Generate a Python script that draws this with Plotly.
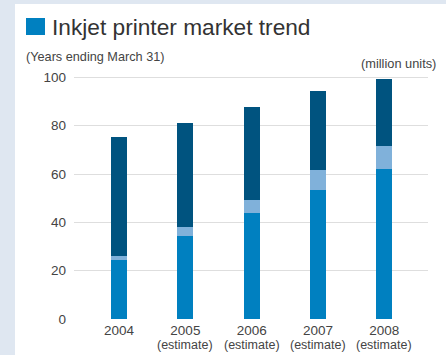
import plotly.graph_objects as go

years = ["2004", "2005", "2006", "2007", "2008"]
sublabels = ["", "(estimate)", "(estimate)", "(estimate)", "(estimate)"]
seg_blue = [24.5, 34.4, 43.9, 53.5, 62.1]
seg_light = [1.7, 3.7, 5.4, 8.2, 9.5]
seg_dark = [49.3, 43.1, 38.4, 32.6, 27.7]
yticks = [0, 20, 40, 60, 80, 100]

W, H = 446, 355
L, R, T, B = 74, 18, 75, 36
pw, ph = W - L - R, H - T - B

def px_x(x):
    return (x - L) / pw

def px_y(y):
    return (H - B - y) / ph

xs = list(range(len(years)))
fig = go.Figure()
for vals, col in [(seg_blue, "#0080c0"), (seg_light, "#80b1da"), (seg_dark, "#00537f")]:
    fig.add_trace(go.Bar(x=xs, y=vals, marker=dict(color=col, line=dict(width=0)),
                         width=0.24, showlegend=False, hoverinfo="skip"))

font = "Liberation Sans, Arial, sans-serif"
fig.update_layout(
    width=W, height=H, barmode="stack",
    margin=dict(l=L, r=R, t=T, b=B, pad=0),
    paper_bgcolor="#dfe7f1", plot_bgcolor="rgba(0,0,0,0)",
    font=dict(family=font, color="#444", size=13),
    xaxis=dict(range=[-0.68, 4.66], tickvals=xs, ticktext=years, showgrid=False,
               zeroline=False, showline=False, ticks="", ticklabelstandoff=1,
               tickfont=dict(size=13.5, color="#444")),
    yaxis=dict(range=[0, 101], tickvals=yticks, showgrid=True, gridcolor="#dedede", gridwidth=1,
               zeroline=False, showline=False, ticks="", ticklabelstandoff=7,
               tickfont=dict(size=13.5, color="#444")),
    shapes=[
        dict(type="rect", xref="paper", yref="paper", x0=px_x(15), x1=px_x(W + 5),
             y0=px_y(H + 5), y1=px_y(4), fillcolor="white", line=dict(width=0), layer="below"),
        dict(type="rect", xref="paper", yref="paper", x0=px_x(26), x1=px_x(45),
             y0=px_y(35), y1=px_y(18), fillcolor="#0080c0", line=dict(width=0)),
    ],
)
ann = [
    dict(text="Inkjet printer market trend", x=px_x(50), y=px_y(26.5), xanchor="left", yanchor="middle",
         font=dict(size=22.7, color="#333")),
    dict(text="(Years ending March 31)", x=px_x(24), y=px_y(57), xanchor="left", yanchor="middle",
         font=dict(size=12.7, color="#444")),
    dict(text="(million units)", x=px_x(438), y=px_y(63.5), xanchor="right", yanchor="middle",
         font=dict(size=12.8, color="#444")),
]
for i, s in enumerate(sublabels):
    if s:
        ann.append(dict(text=s, x=i, xref="x", y=px_y(345), yanchor="middle", xanchor="center",
                        font=dict(size=12.5, color="#444"), showarrow=False, yref="paper"))
for a in ann:
    a.setdefault("xref", "paper")
    a.setdefault("yref", "paper")
    a["showarrow"] = False
fig.update_layout(annotations=ann)
fig.write_html("out.html")
